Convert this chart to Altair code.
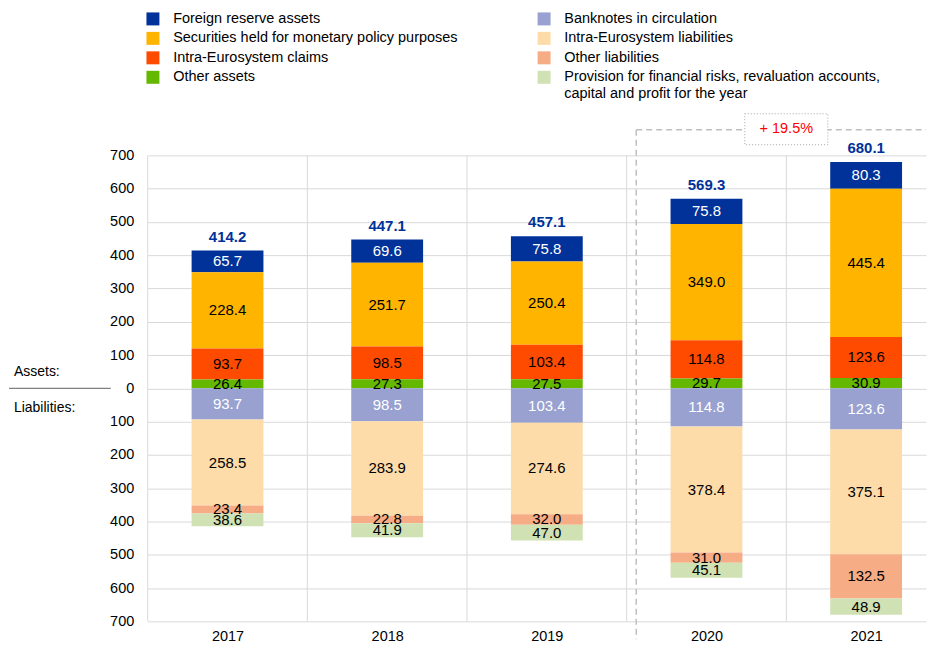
import altair as alt
import pandas as pd

years = ["2017", "2018", "2019", "2020", "2021"]

asset_cats = ["Foreign reserve assets",
              "Securities held for monetary policy purposes",
              "Intra-Eurosystem claims",
              "Other assets"]
liab_cats = ["Banknotes in circulation",
             "Intra-Eurosystem liabilities",
             "Other liabilities",
             "Provision for financial risks, revaluation accounts, capital and profit for the year"]

foreign_reserve = [65.7, 69.6, 75.8, 75.8, 80.3]
securities = [228.4, 251.7, 250.4, 349.0, 445.4]
intra_claims = [93.7, 98.5, 103.4, 114.8, 123.6]
other_assets = [26.4, 27.3, 27.5, 29.7, 30.9]

banknotes = [93.7, 98.5, 103.4, 114.8, 123.6]
intra_liabilities = [258.5, 283.9, 274.6, 378.4, 375.1]
other_liabilities = [23.4, 22.8, 32.0, 31.0, 132.5]
provisions = [38.6, 41.9, 47.0, 45.1, 48.9]

totals = [414.2, 447.1, 457.1, 569.3, 680.1]
change_label = "+ 19.5%"

asset_colors = ["#003299", "#ffb400", "#ff4b00", "#65b800"]
liab_colors = ["#98a1d0", "#fddca9", "#f6ad85", "#d0e1b3"]
white_text = ["Foreign reserve assets", "Banknotes in circulation"]

FONT = "Liberation Sans"
W, H = 780, 467
X_DOMAIN = [0, 4.875]
Y_DOMAIN = [-700, 700]

# ---- tables -------------------------------------------------------------
asset_series = [foreign_reserve, securities, intra_claims, other_assets]
liab_series = [banknotes, intra_liabilities, other_liabilities, provisions]

rows = []
for ci, (cat, ser) in enumerate(zip(asset_cats, asset_series)):
    for i, y in enumerate(years):
        rows.append({"year": y, "pos": i + 0.5, "cat": cat, "value": ser[i],
                     "order": len(asset_cats) - ci})
assets_df = pd.DataFrame(rows)

rows = []
for ci, (cat, ser) in enumerate(zip(liab_cats, liab_series)):
    for i, y in enumerate(years):
        rows.append({"year": y, "pos": i + 0.5, "cat": cat, "value": -ser[i],
                     "order": ci})
liab_df = pd.DataFrame(rows)

totals_df = pd.DataFrame({"pos": [i + 0.5 for i in range(len(years))],
                          "total": totals})
bounds_df = pd.DataFrame({"b": list(range(len(years)))})

label_expr_x = "[" + ",".join("'%s'" % y for y in years) + "][floor(datum.value)]"

x_axis = alt.Axis(values=[i + 0.5 for i in range(len(years))], labelExpr=label_expr_x,
                  grid=False, domain=False, ticks=False, labelPadding=8,
                  labelFontSize=14.5, labelColor="#000000", title=None, labelFont=FONT)
y_axis = alt.Axis(values=list(range(-700, 701, 100)), labelExpr="abs(datum.value)",
                  grid=True, gridColor="#d9d9d9", gridWidth=1, domain=False,
                  ticks=False, labelPadding=14, labelFontSize=14.5,
                  labelColor="#000000", title=None, labelFont=FONT)
xs = alt.Scale(domain=X_DOMAIN, nice=False, padding=0, zero=False)
ys = alt.Scale(domain=Y_DOMAIN, nice=False, padding=0)


def legend(x):
    return alt.Legend(title=None, orient="none", legendX=x, legendY=-144,
                      direction="vertical", symbolType="square", symbolSize=169,
                      symbolStrokeWidth=0, symbolOpacity=1, labelFontSize=14.5,
                      labelFont=FONT, labelColor="#000000", labelLimit=600,
                      labelOffset=13, rowPadding=4.5, padding=0,
                      labelExpr="indexof(datum.label, 'Provision') == 0 ? "
                                "['Provision for financial risks, revaluation accounts,', "
                                "'capital and profit for the year'] : datum.label")


def stacked(df):
    return (alt.Chart(df)
            .transform_stack(stack="value", groupby=["year"], as_=["y0", "y1"],
                             sort=[alt.SortField("order", order="ascending")])
            .transform_calculate(mid="(datum.y0 + datum.y1) / 2",
                                 lab="format(abs(datum.value), '.1f')"))


grid_v = alt.Chart(bounds_df).mark_rule(color="#d9d9d9", strokeWidth=1).encode(
    x=alt.X("b:Q", scale=xs, axis=x_axis))

assets_bars = stacked(assets_df).mark_bar(size=72).encode(
    x=alt.X("pos:Q", scale=xs, axis=x_axis),
    y=alt.Y("y0:Q", scale=ys, axis=y_axis),
    y2="y1:Q",
    color=alt.Color("cat:N", scale=alt.Scale(domain=asset_cats, range=asset_colors),
                    legend=legend(-2)))

liab_bars = stacked(liab_df).mark_bar(size=72).encode(
    x=alt.X("pos:Q", scale=xs, axis=x_axis),
    y=alt.Y("y0:Q", scale=ys, axis=y_axis),
    y2="y1:Q",
    color=alt.Color("cat:N", scale=alt.Scale(domain=liab_cats, range=liab_colors),
                    legend=legend(390)))

white_cond = " || ".join("datum.cat == '%s'" % c for c in white_text)


def seg_text(df):
    return stacked(df).mark_text(fontSize=15, font=FONT, baseline="middle").encode(
        x=alt.X("pos:Q", scale=xs, axis=x_axis),
        y=alt.Y("mid:Q", scale=ys, axis=y_axis),
        text="lab:N",
        color=alt.condition(white_cond, alt.value("#ffffff"), alt.value("#000000")))


total_text = alt.Chart(totals_df).mark_text(
    fontSize=15, font=FONT, fontWeight="bold", color="#003299",
    baseline="bottom", dy=-6).encode(
    x=alt.X("pos:Q", scale=xs, axis=x_axis),
    y=alt.Y("total:Q", scale=ys, axis=y_axis),
    text=alt.Text("total:Q", format=".1f"))

one = pd.DataFrame({"t": [change_label]})

dash_v = alt.Chart(one).mark_rule(color="#bfbfbf", strokeWidth=1.5,
                                  strokeDash=[6, 4]).encode(
    x=alt.X(datum=3.06, scale=xs, axis=x_axis),
    y=alt.Y(datum=777, scale=ys, axis=y_axis),
    y2=alt.value(H + 18))
dash_h = alt.Chart(one).mark_rule(color="#bfbfbf", strokeWidth=1.5,
                                  strokeDash=[6, 4]).encode(
    x=alt.X(datum=3.06, scale=xs, axis=x_axis),
    x2=alt.value(W),
    y=alt.Y(datum=777, scale=ys, axis=y_axis))
box = alt.Chart(one).mark_rect(fill="#ffffff", stroke="#a6a6a6", strokeWidth=1,
                               strokeDash=[1, 2]).encode(
    x=alt.X(datum=3.74, scale=xs, axis=x_axis),
    x2=alt.datum(4.26),
    y=alt.Y(datum=825, scale=ys, axis=y_axis),
    y2=alt.datum(732))
box_text = alt.Chart(one).mark_text(color="#ff0000", fontSize=14.5, font=FONT,
                                    baseline="middle").encode(
    x=alt.X(datum=4, scale=xs, axis=x_axis),
    y=alt.Y(datum=780, scale=ys, axis=y_axis),
    text="t:N")

side = pd.DataFrame({"t": ["Assets:", "Liabilities:"]})
assets_lbl = alt.Chart(side).transform_filter("datum.t == 'Assets:'").mark_text(
    fontSize=14, font=FONT, align="left", baseline="middle", dy=-16,
    color="#000000").encode(
    x=alt.value(-134), y=alt.Y(datum=0, scale=ys, axis=y_axis), text="t:N")
liab_lbl = alt.Chart(side).transform_filter("datum.t == 'Liabilities:'").mark_text(
    fontSize=14, font=FONT, align="left", baseline="middle", dy=20,
    color="#000000").encode(
    x=alt.value(-134), y=alt.Y(datum=0, scale=ys, axis=y_axis), text="t:N")
side_rule = alt.Chart(one).mark_rule(color="#808080", strokeWidth=1.2).encode(
    x=alt.value(-139), x2=alt.value(-37), y=alt.Y(datum=0, scale=ys, axis=y_axis))

chart = (alt.layer(grid_v, assets_bars, liab_bars, seg_text(assets_df),
                   seg_text(liab_df), total_text, dash_v, dash_h, box, box_text,
                   assets_lbl, liab_lbl, side_rule)
         .resolve_scale(color="independent")
         .properties(width=W, height=H,
                     padding={"left": 0, "top": 3, "right": 0, "bottom": 0})
         .configure(font=FONT)
         .configure_view(stroke=None))

chart.save("out.html", embed_options={"renderer": "svg", "actions": False})
